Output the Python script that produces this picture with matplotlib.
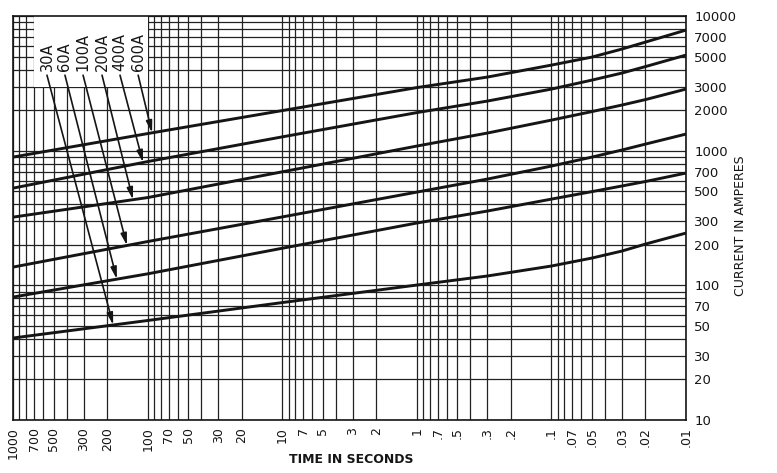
import numpy as np
import matplotlib
matplotlib.use("Agg")
import matplotlib.pyplot as plt
from matplotlib.patches import Rectangle
from matplotlib.ticker import FixedLocator, FixedFormatter, LogLocator, NullFormatter

# ---------------- data ----------------
time_s = [1000, 100, 10, 1, 0.3, 0.1, 0.05, 0.03, 0.02, 0.01]
amps_30A = [40.7, 54.9, 74.6, 100.7, 117.5, 139.4, 159.8, 180, 203, 245]
amps_60A = [82, 122, 189, 291, 357, 438, 498, 548, 592, 684]
amps_100A = [137, 212, 323, 494, 617, 771, 899, 1014, 1123, 1333]
amps_200A = [322, 450, 699, 1086, 1356, 1693, 1959, 2189, 2405, 2878]
amps_400A = [529, 833, 1271, 1925, 2344, 2878, 3357, 3784, 4230, 5150]
amps_600A = [900, 1345, 1993, 2953, 3534, 4339, 4977, 5706, 6432, 7898]

rating_labels = ["30A", "60A", "100A", "200A", "400A", "600A"]

x_tick_values = [1000, 700, 500, 300, 200, 100, 70, 50, 30, 20, 10, 7, 5, 3, 2,
                 1, 0.7, 0.5, 0.3, 0.2, 0.1, 0.07, 0.05, 0.03, 0.02, 0.01]
x_tick_labels = ["1000", "700", "500", "300", "200", "100", "70", "50", "30", "20",
                 "10", "7", "5", "3", "2", "1", ".7", ".5", ".3", ".2", ".1",
                 ".07", ".05", ".03", ".02", ".01"]
y_tick_values = [10, 20, 30, 50, 70, 100, 200, 300, 500, 700, 1000, 2000, 3000,
                 5000, 7000, 10000]
y_tick_labels = ["10", "20", "30", "50", "70", "100", "200", "300", "500", "700",
                 "1000", "2000", "3000", "5000", "7000", "10000"]

# ---------------- layout (label placement) ----------------
label_x_time = [562, 413, 303, 219, 161, 118]      # x positions of rotated labels
label_bottom_amp = 3950                              # bottom of label text
arrow_start_amp = 3650
arrow_tip_time = [181, 170, 143, 129, 108.6, 93]
box_time = (700, 100)
box_amp = (3000, 10000)

W, H = 777, 473
fig = plt.figure(figsize=(W / 100, H / 100), dpi=100)
ax = fig.add_axes([13.3 / W, 1 - 420 / H, (686 - 13.3) / W, (420 - 16.3) / H])
ax.set_xscale("log")
ax.set_yscale("log")
ax.set_xlim(1000, 0.01)
ax.set_ylim(10, 10000)

ink = "#151515"
series = [amps_30A, amps_60A, amps_100A, amps_200A, amps_400A, amps_600A]
for s in series:
    ax.plot(time_s, s, color=ink, lw=2.1, zorder=3, solid_capstyle="butt",
            solid_joinstyle="round")

# grid
ax.xaxis.set_major_locator(FixedLocator(x_tick_values))
ax.xaxis.set_major_formatter(FixedFormatter(x_tick_labels))
ax.xaxis.set_minor_locator(LogLocator(base=10, subs=np.arange(1, 10)))
ax.xaxis.set_minor_formatter(NullFormatter())
ax.yaxis.set_major_locator(FixedLocator(y_tick_values))
ax.yaxis.set_major_formatter(FixedFormatter(y_tick_labels))
ax.yaxis.set_minor_locator(LogLocator(base=10, subs=np.arange(1, 10)))
ax.yaxis.set_minor_formatter(NullFormatter())
ax.grid(which="both", color="#222222", lw=0.9)
ax.yaxis.tick_right()
ax.tick_params(which="both", length=0)
ax.tick_params(axis="x", labelrotation=90, pad=5, labelsize=9, colors=ink)
ax.tick_params(axis="y", pad=6, labelsize=9.5, colors=ink)
for sp in ax.spines.values():
    sp.set_color(ink)
    sp.set_linewidth(1.2)

# white label box
ax.add_patch(Rectangle((box_time[1], box_amp[0]), box_time[0] - box_time[1],
                       box_amp[1] - box_amp[0], facecolor="white", edgecolor="none",
                       zorder=2))

lt = np.log10(time_s)[::-1]
for lab, xt, tip_t, s in zip(rating_labels, label_x_time, arrow_tip_time, series):
    ax.text(xt, label_bottom_amp, lab, rotation=90, ha="center", va="bottom",
            fontsize=10.5, color=ink, zorder=4)
    tip_amp = 10 ** np.interp(np.log10(tip_t), lt, np.log10(s)[::-1])
    ax.annotate("", xy=(tip_t, tip_amp), xytext=(xt, arrow_start_amp),
                arrowprops=dict(arrowstyle="-|>,head_length=0.7,head_width=0.18",
                                color=ink, lw=1.2, shrinkA=0, shrinkB=0),
                zorder=4)

fig.text(351 / W, 1 - 459 / H, "TIME IN SECONDS", ha="center", va="center",
         fontsize=9, fontweight="bold", color=ink)
fig.text(740 / W, 1 - 226 / H, "CURRENT IN AMPERES", ha="center", va="center",
         rotation=90, fontsize=9, color=ink)

fig.savefig("out.png", dpi=100)
